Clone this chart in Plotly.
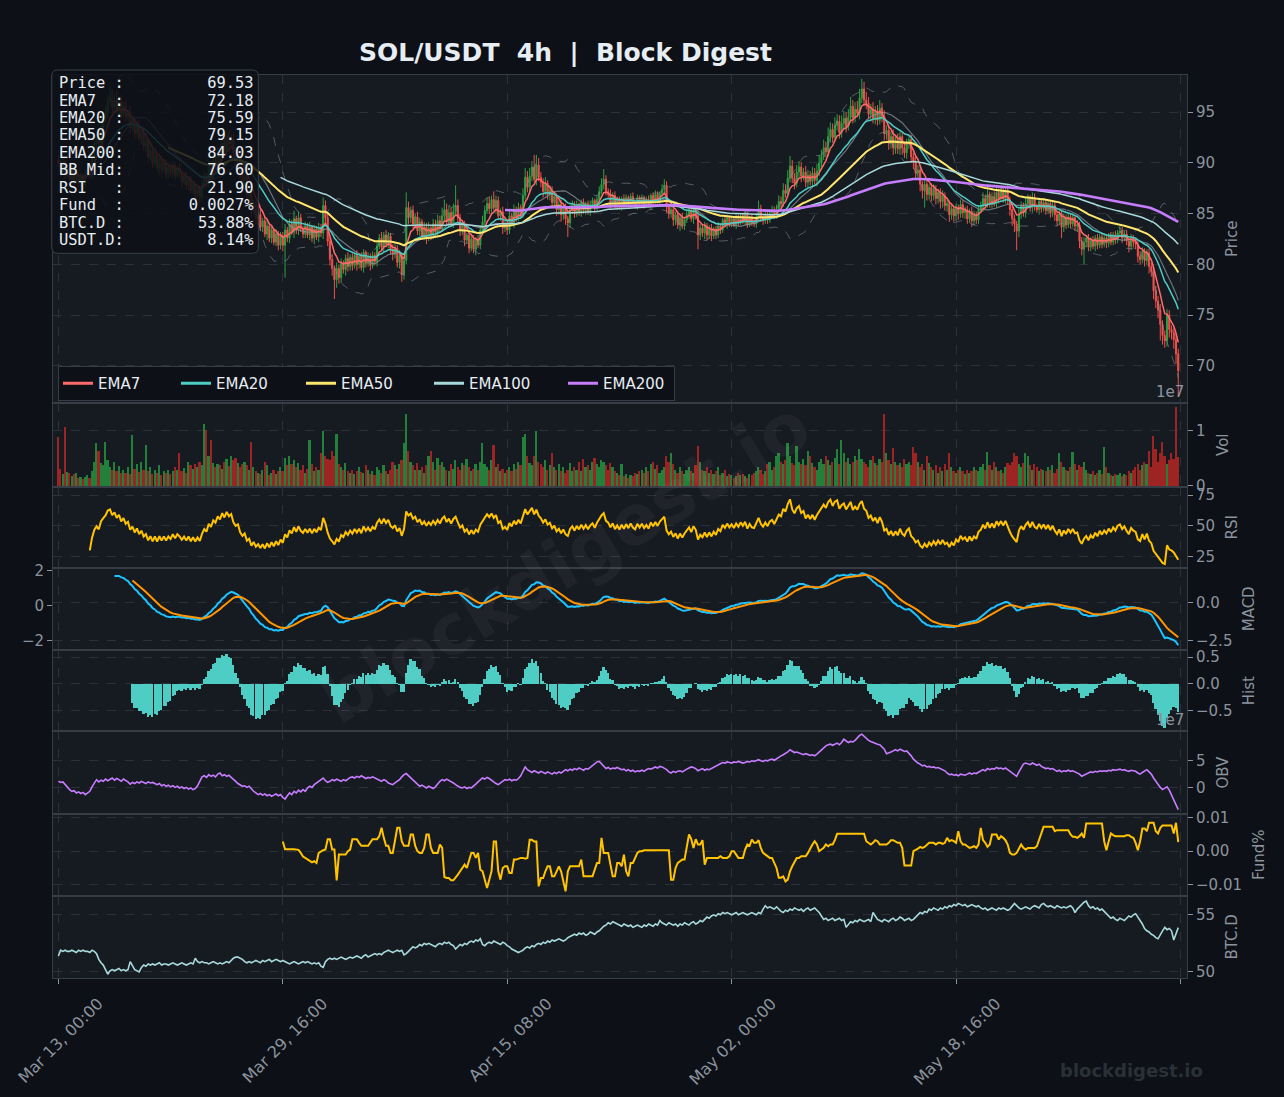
import numpy as np
import pandas as pd
import plotly.graph_objects as go
from plotly.subplots import make_subplots

# ---------------- data (4h candles, index 0 = Mar 13 00:00) ----------------
first_open = 90.3
close = [
    90.0, 89.2, 90.1, 88.9, 89.5, 88.4, 89.4, 88.2, 88.9, 88.0, 88.7, 87.9, 88.9, 89.2, 88.8, 90.6, 91.9, 92.6, 92.0, 93.6,
    94.3, 94.9, 96.1, 96.4, 95.5, 96.2, 95.3, 96.0, 94.9, 95.6, 94.6, 95.0, 93.5, 94.1, 92.9, 93.6, 92.4, 93.0, 91.7, 92.1,
    90.6, 91.3, 90.0, 90.8, 89.5, 90.4, 89.3, 90.0, 88.9, 89.6, 89.0, 89.8, 88.8, 89.5, 89.0, 88.2, 88.7, 87.8, 88.4, 87.3,
    87.9, 86.9, 87.5, 86.7, 87.8, 88.6, 88.1, 89.5, 88.9, 90.2, 89.8, 91.1, 90.6, 92.0, 91.3, 92.6, 91.9, 92.4, 91.0, 90.3,
    90.6, 89.0, 88.2, 88.6, 86.9, 87.2, 85.3, 85.9, 84.5, 84.9, 83.7, 84.3, 83.0, 83.8, 82.6, 83.4, 82.2, 83.0, 81.9, 82.8,
    81.9, 83.4, 82.6, 84.0, 83.2, 84.5, 83.4, 84.6, 83.5, 83.0, 83.8, 82.9, 83.7, 82.6, 83.5, 82.7, 83.6, 83.1, 85.8, 84.6,
    82.3, 80.5, 79.6, 78.5, 79.6, 78.7, 80.1, 79.5, 80.6, 79.8, 80.7, 79.9, 80.9, 80.0, 80.8, 79.7, 81.2, 80.1, 80.8, 79.9,
    80.9, 80.3, 81.8, 82.6, 81.7, 82.9, 82.0, 82.8, 81.5, 81.0, 81.6, 80.2, 80.9, 79.0, 80.4, 85.6, 84.6, 85.3, 84.0, 84.7,
    83.3, 84.2, 82.8, 83.7, 82.6, 83.6, 82.9, 84.0, 83.2, 84.3, 83.5, 84.8, 85.4, 84.2, 85.1, 84.0, 85.2, 85.8, 84.6, 83.4,
    83.9, 82.4, 82.9, 81.6, 82.5, 81.5, 82.4, 81.9, 83.4, 84.2, 85.3, 86.0, 85.5, 86.4, 85.6, 86.3, 84.8, 85.2, 83.6, 84.0,
    83.4, 84.8, 84.1, 85.3, 84.6, 85.6, 84.9, 86.8, 88.6, 87.6, 88.7, 89.6, 88.4, 89.8, 88.6, 88.1, 87.2, 88.0, 86.9, 87.3,
    86.1, 86.7, 85.4, 85.9, 84.9, 85.6, 84.5, 84.1, 85.4, 85.9, 85.0, 85.9, 85.2, 86.1, 85.3, 86.0, 85.2, 85.9, 86.3, 85.5,
    86.4, 87.2, 87.9, 88.4, 87.2, 86.9, 86.1, 86.8, 85.8, 86.4, 85.7, 86.5, 85.8, 86.6, 85.9, 86.7, 86.0, 85.7, 86.6, 86.0,
    86.6, 85.9, 86.4, 85.8, 86.8, 86.2, 86.9, 86.3, 87.0, 87.4, 87.8, 85.7, 85.0, 85.4, 84.4, 84.9, 83.9, 84.6, 83.8, 84.4,
    84.9, 85.3, 84.5, 85.4, 84.8, 82.9, 83.6, 83.1, 83.8, 82.9, 83.6, 82.8, 83.5, 82.9, 83.8, 83.4, 84.4, 83.9, 84.6, 84.0,
    84.5, 83.9, 84.6, 84.1, 84.8, 84.3, 84.9, 83.9, 84.6, 84.1, 84.0, 84.7, 85.5, 84.7, 84.3, 84.9, 84.4, 85.1, 85.3, 84.8,
    85.4, 86.2, 86.0, 87.3, 87.0, 88.5, 89.7, 88.5, 88.0, 89.1, 89.6, 88.7, 89.1, 88.1, 88.8, 88.2, 89.0, 88.3, 89.2, 90.0,
    90.6, 91.5, 91.1, 92.6, 93.3, 92.5, 93.7, 94.1, 93.0, 93.9, 94.4, 93.6, 94.5, 95.6, 94.5, 95.3, 94.9, 96.4, 97.3, 96.2,
    95.9, 94.8, 95.3, 94.4, 95.1, 94.2, 95.4, 94.6, 92.9, 93.2, 91.9, 92.6, 91.5, 92.3, 91.4, 92.6, 91.5, 91.0, 91.9, 92.3,
    90.6, 90.1, 89.0, 89.3, 87.9, 87.3, 87.9, 86.9, 87.6, 86.8, 87.4, 86.5, 87.1, 86.2, 86.8, 85.8, 86.0, 84.9, 85.5, 84.8,
    85.6, 85.0, 85.9, 85.1, 85.4, 84.5, 85.2, 84.3, 84.9, 84.4, 85.4, 85.7, 86.5, 85.9, 86.9, 86.0, 86.7, 86.0, 87.1, 86.5,
    87.2, 86.5, 87.3, 86.3, 85.4, 84.5, 84.0, 83.3, 85.0, 85.8, 85.1, 86.0, 86.5, 85.6, 86.6, 85.7, 85.4, 86.2, 85.5, 86.1,
    85.3, 86.0, 85.1, 85.8, 84.9, 84.3, 85.0, 83.7, 84.6, 83.9, 84.7, 84.0, 84.6, 83.8, 83.9, 82.3, 81.5, 82.2, 82.6, 81.7,
    82.4, 81.8, 82.6, 81.9, 82.7, 82.0, 82.6, 82.1, 82.8, 82.2, 82.9, 82.4, 83.1, 83.3, 82.6, 83.0, 82.3, 81.8, 82.6, 82.2,
    82.0, 80.8, 80.5, 81.3, 80.4, 81.1, 79.8, 79.3, 77.4, 76.4, 75.5, 74.1, 73.0, 72.5, 75.0, 73.6, 73.3, 72.6, 71.2, 69.53,
]
# wick lengths beyond the candle body, in tenths of a dollar
upper_wick = [
    4, 3, 5, 2, 3, 4, 2, 3, 5, 2, 3, 2, 4, 3, 5, 4, 6, 5, 4, 6, 5, 7, 6, 12, 8, 6, 9, 5, 7, 4, 5, 3, 6, 4, 5, 3, 6, 4, 5, 3,
    4, 5, 3, 4, 2, 5, 3, 4, 3, 2, 3, 4, 2, 3, 5, 2, 3, 4, 2, 3, 3, 2, 4, 3, 5, 6, 4, 7, 5, 4, 6, 5, 8, 4, 6, 5, 7, 4, 5, 3,
    4, 3, 5, 3, 4, 6, 3, 5, 4, 3, 5, 3, 4, 6, 3, 4, 2, 5, 3, 4, 4, 6, 3, 5, 4, 8, 3, 6, 4, 3, 4, 3, 5, 2, 4, 3, 5, 4, 8, 5,
    6, 4, 5, 3, 6, 4, 5, 3, 4, 6, 3, 4, 2, 5, 3, 4, 3, 2, 4, 3, 4, 3, 5, 4, 6, 3, 5, 4, 3, 5, 4, 3, 5, 2, 4, 15, 6, 4, 5, 3,
    5, 4, 3, 5, 4, 6, 3, 5, 4, 6, 5, 8, 10, 6, 7, 5, 8, 20, 6, 4, 3, 4, 2, 5, 3, 4, 3, 5, 4, 6, 5, 6, 7, 4, 8, 5, 4, 3, 5, 4,
    4, 5, 3, 6, 4, 5, 3, 7, 9, 6, 8, 6, 12, 10, 7, 5, 4, 6, 3, 5, 4, 5, 3, 4, 5, 3, 4, 3, 5, 4, 3, 4, 2, 3, 4, 2, 3, 4, 3, 2,
    4, 5, 6, 10, 4, 3, 5, 3, 4, 3, 3, 2, 4, 3, 2, 3, 4, 2, 3, 2, 3, 2, 3, 4, 2, 3, 4, 3, 2, 5, 6, 4, 3, 4, 5, 3, 4, 3, 5, 3,
    4, 3, 5, 3, 4, 5, 4, 3, 4, 3, 3, 4, 2, 3, 4, 3, 2, 4, 3, 2, 3, 2, 4, 3, 2, 3, 4, 3, 2, 3, 4, 3, 8, 4, 3, 5, 4, 3, 5, 4,
    5, 6, 5, 7, 6, 8, 10, 6, 5, 7, 6, 5, 4, 6, 5, 4, 6, 5, 7, 8, 7, 8, 6, 9, 7, 6, 8, 7, 6, 8, 7, 6, 8, 9, 6, 7, 8, 9, 10, 7,
    8, 6, 5, 7, 5, 6, 8, 5, 6, 5, 6, 5, 7, 4, 6, 5, 4, 6, 5, 4, 5, 4, 6, 5, 4, 3, 5, 4, 3, 4, 5, 4, 3, 4, 5, 3, 4, 3, 4, 3,
    4, 3, 5, 4, 3, 4, 3, 5, 4, 3, 4, 5, 6, 4, 5, 3, 4, 5, 6, 4, 5, 4, 3, 5, 4, 3, 4, 3, 5, 4, 3, 5, 4, 3, 5, 4, 3, 4, 3, 4,
    3, 4, 3, 5, 4, 3, 4, 3, 4, 3, 4, 3, 4, 3, 5, 3, 4, 5, 3, 4, 3, 4, 3, 4, 3, 4, 3, 4, 3, 4, 3, 4, 3, 5, 4, 3, 4, 3, 4, 3,
    4, 3, 5, 4, 3, 4, 5, 4, 6, 5, 5, 6, 4, 5, 6, 5, 4, 5, 6, 5,
]
lower_wick = [
    3, 5, 2, 4, 3, 5, 3, 4, 2, 4, 5, 3, 4, 2, 3, 4, 3, 5, 4, 3, 4, 3, 5, 4, 6, 5, 4, 6, 5, 4, 5, 4, 6, 3, 5, 4, 3, 5, 4, 6,
    4, 3, 5, 4, 3, 5, 4, 3, 5, 4, 3, 4, 5, 3, 4, 6, 3, 4, 5, 3, 4, 5, 3, 6, 4, 3, 5, 4, 3, 5, 4, 5, 6, 4, 5, 3, 6, 4, 5, 6,
    5, 6, 4, 5, 7, 5, 6, 4, 5, 6, 4, 5, 3, 6, 4, 5, 3, 4, 5, 4, 6, 32, 4, 5, 3, 6, 4, 5, 3, 4, 4, 3, 5, 4, 6, 3, 5, 4, 6, 5,
    5, 6, 7, 19, 8, 6, 5, 4, 6, 5, 4, 5, 3, 6, 4, 3, 5, 4, 3, 5, 3, 4, 5, 3, 4, 5, 3, 4, 5, 6, 4, 5, 6, 7, 5, 4, 6, 5, 4, 5,
    4, 5, 3, 4, 6, 3, 5, 4, 3, 5, 4, 3, 5, 4, 6, 3, 4, 3, 5, 6, 5, 6, 4, 5, 3, 4, 6, 3, 4, 5, 4, 3, 5, 4, 3, 6, 4, 5, 6, 4,
    5, 4, 3, 5, 4, 3, 4, 3, 4, 5, 4, 5, 3, 6, 4, 5, 6, 4, 5, 6, 5, 4, 6, 5, 7, 5, 6, 14, 5, 4, 4, 3, 4, 5, 3, 4, 3, 4, 3, 4,
    3, 4, 3, 5, 4, 3, 6, 4, 3, 4, 3, 4, 3, 2, 3, 4, 3, 2, 3, 4, 3, 4, 3, 2, 4, 3, 2, 3, 4, 3, 4, 6, 5, 4, 6, 5, 4, 6, 3, 4,
    3, 4, 3, 5, 4, 14, 5, 4, 6, 5, 4, 5, 3, 4, 3, 4, 3, 2, 4, 3, 3, 2, 4, 3, 2, 3, 4, 3, 2, 3, 3, 4, 3, 5, 4, 3, 4, 3, 2, 3,
    3, 2, 4, 3, 4, 3, 4, 5, 6, 4, 5, 6, 4, 5, 6, 4, 5, 4, 6, 5, 4, 3, 5, 4, 6, 5, 4, 5, 6, 5, 5, 6, 4, 5, 6, 5, 4, 6, 5, 6,
    6, 5, 7, 5, 6, 5, 4, 6, 7, 6, 6, 5, 7, 6, 5, 6, 7, 5, 6, 5, 6, 7, 5, 6, 7, 8, 17, 6, 5, 6, 5, 6, 5, 7, 6, 5, 6, 7, 5, 6,
    5, 6, 4, 5, 6, 5, 4, 6, 5, 4, 4, 3, 5, 4, 3, 4, 5, 3, 4, 5, 3, 4, 5, 4, 6, 7, 8, 19, 6, 5, 4, 5, 3, 4, 5, 4, 3, 5, 4, 3,
    4, 3, 5, 4, 6, 5, 4, 11, 5, 4, 3, 4, 3, 5, 6, 7, 6, 15, 5, 4, 4, 3, 5, 4, 3, 4, 3, 5, 4, 3, 3, 4, 3, 4, 5, 3, 4, 6, 4, 5,
    5, 6, 5, 4, 6, 5, 7, 5, 8, 7, 8, 16, 9, 7, 6, 8, 7, 9, 10, 25,
]
volume_1e5 = [
    90, 32, 22, 108, 26, 25, 18, 22, 24, 15, 17, 14, 16, 20, 15, 28, 45, 78, 65, 42, 38, 80, 47, 35, 30, 44, 28, 36, 25, 30,
    24, 35, 22, 93, 32, 40, 26, 45, 30, 75, 28, 35, 22, 30, 25, 38, 20, 28, 24, 30, 22, 27, 35, 30, 60, 28, 34, 25, 45, 38,
    32, 40, 35, 45, 38, 114, 103, 55, 84, 42, 35, 40, 38, 32, 45, 50, 36, 55, 48, 52, 42, 35, 40, 45, 38, 30, 80, 35, 28, 25,
    22, 30, 45, 38, 20, 25, 30, 22, 28, 35, 28, 52, 38, 55, 40, 48, 35, 42, 30, 38, 25, 32, 85, 40, 28, 35, 30, 60, 100, 55,
    50, 48, 65, 55, 96, 40, 35, 30, 42, 28, 25, 30, 22, 28, 35, 26, 24, 38, 30, 22, 28, 20, 35, 30, 25, 38, 28, 22, 30, 45,
    38, 32, 40, 48, 78, 132, 65, 45, 38, 30, 42, 30, 35, 25, 38, 56, 65, 45, 30, 52, 38, 45, 35, 30, 28, 40, 32, 48, 35, 30,
    42, 38, 50, 35, 28, 32, 40, 30, 45, 78, 40, 35, 30, 48, 76, 35, 40, 28, 32, 25, 30, 35, 28, 40, 32, 45, 38, 90, 96, 55,
    42, 38, 55, 100, 45, 40, 35, 48, 30, 38, 60, 35, 30, 40, 28, 35, 25, 30, 42, 28, 35, 30, 45, 28, 50, 35, 38, 30, 45, 52,
    40, 35, 48, 45, 38, 30, 42, 35, 28, 25, 20, 40, 18, 22, 15, 20, 18, 25, 22, 28, 30, 25, 35, 28, 40, 45, 32, 38, 25, 30,
    35, 55, 45, 60, 40, 30, 25, 35, 28, 22, 30, 35, 28, 25, 38, 73, 45, 30, 28, 35, 25, 30, 22, 28, 35, 20, 25, 30, 18, 22,
    20, 15, 18, 25, 20, 22, 18, 15, 22, 20, 25, 28, 35, 30, 22, 28, 40, 45, 30, 35, 56, 60, 45, 40, 48, 78, 55, 42, 38, 73,
    45, 40, 50, 38, 65, 55, 42, 35, 30, 45, 50, 40, 55, 48, 38, 45, 52, 67, 40, 84, 60, 45, 52, 40, 45, 55, 48, 68, 50, 45,
    40, 35, 48, 55, 42, 38, 50, 45, 132, 60, 48, 40, 70, 45, 38, 42, 35, 50, 40, 45, 38, 72, 60, 45, 35, 40, 30, 56, 42, 35,
    30, 38, 25, 35, 28, 40, 30, 60, 35, 28, 25, 30, 35, 28, 22, 30, 25, 28, 35, 30, 28, 35, 40, 30, 62, 38, 30, 45, 35, 28,
    30, 25, 35, 42, 38, 45, 60, 55, 40, 35, 42, 60, 55, 38, 30, 40, 35, 28, 32, 30, 28, 35, 30, 38, 25, 32, 60, 45, 35, 30,
    28, 35, 62, 40, 30, 38, 35, 45, 30, 25, 22, 28, 20, 25, 30, 22, 72, 35, 25, 20, 18, 22, 20, 25, 18, 22, 20, 28, 25, 30,
    35, 40, 30, 38, 45, 40, 65, 35, 91, 68, 45, 60, 80, 55, 40, 48, 60, 50, 144, 53,
]
obv_1e6 = [
    12, 10, 11, 6, 2, -3, -6, -5, -9, -7, -10, -8, -12, -9, -6, 2, 9, 15, 11, 14, 12, 16, 13, 15, 18, 14, 17, 15, 12, 16,
    14, 11, 7, 10, 8, 11, 9, 12, 10, 8, 11, 9, 10, 8, 6, 8, 4, 6, 3, 5, 2, 4, 1, 3, 0, 2, -1, 1, -2, 0,
    -3, -1, 4, 12, 20, 22, 19, 24, 21, 23, 20, 25, 27, 22, 24, 21, 23, 19, 16, 12, 8, 5, 3, 4, 1, 3, -2, -6, -9, -12,
    -10, -13, -11, -14, -12, -15, -13, -11, -14, -12, -17, -20, -14, -9, -12, -6, -9, -4, -7, -3, -6, 0, 3, 1, 6, 9, 12, 15, 18, 13,
    10, 12, 15, 13, 16, 14, 12, 15, 13, 16, 19, 20, 18, 21, 19, 22, 20, 17, 19, 18, 20, 18, 16, 14, 12, 15, 13, 9, 7, 6,
    9, 12, 15, 20, 24, 26, 22, 18, 14, 10, 6, 3, 5, 2, 0, 3, 1, -1, 2, 8, 12, 15, 13, 16, 14, 12, 9, 6, 3, 1,
    0, 2, -1, 1, 0, 3, 7, 11, 14, 18, 16, 19, 17, 14, 10, 8, 6, 9, 12, 15, 14, 16, 13, 15, 14, 17, 22, 30, 38, 33,
    30, 28, 31, 29, 27, 30, 28, 26, 29, 27, 25, 28, 26, 29, 27, 30, 33, 31, 34, 32, 35, 33, 36, 34, 32, 35, 34, 37, 40, 44,
    47, 48, 43, 38, 35, 37, 34, 36, 35, 37, 35, 33, 34, 31, 33, 30, 32, 29, 31, 30, 32, 30, 33, 35, 34, 36, 38, 36, 39, 38,
    36, 33, 29, 27, 30, 28, 30, 31, 29, 32, 34, 36, 38, 37, 35, 31, 33, 35, 32, 34, 33, 35, 37, 39, 42, 44, 46, 45, 47, 46,
    45, 47, 46, 48, 47, 45, 46, 48, 47, 49, 48, 50, 51, 49, 48, 50, 49, 51, 52, 50, 53, 55, 58, 60, 62, 65, 69, 66, 64, 65,
    63, 61, 60, 62, 61, 59, 60, 58, 61, 65, 69, 73, 76, 78, 79, 77, 79, 81, 78, 82, 88, 85, 82, 84, 83, 86, 90, 95, 97, 93,
    89, 86, 84, 82, 80, 79, 78, 74, 70, 62, 63, 65, 67, 69, 67, 70, 68, 66, 67, 63, 58, 52, 48, 45, 43, 40, 41, 38, 39, 37,
    38, 36, 37, 35, 34, 31, 27, 24, 25, 23, 24, 22, 25, 24, 23, 25, 27, 25, 27, 26, 28, 30, 33, 31, 35, 33, 35, 34, 37, 35,
    36, 34, 36, 33, 30, 27, 24, 21, 29, 37, 43, 45, 44, 42, 45, 43, 41, 43, 39, 37, 35, 36, 34, 35, 32, 30, 32, 29, 31, 30,
    32, 30, 31, 29, 27, 25, 21, 23, 25, 27, 29, 28, 30, 29, 31, 30, 31, 30, 32, 31, 33, 32, 33, 34, 32, 33, 31, 30, 32, 31,
    30, 27, 25, 28, 31, 33, 29, 25, 18, 12, 6, 1, -3, -1, 2, -4, -12, -21, -30, -39,
]
funding_start = 100  # funding series begins at Mar 29, 16:00
funding_1e4 = [
    29, 6, 6, 5, 6, 6, 5, 4, -5, -16, -20, -25, -30, -33, -30, -35, -5, 0, 3, 5,
    36, 36, 5, 5, -87, -10, -10, -10, -10, 0, 5, 36, 36, 36, 25, 16, 16, 16, 16, 26,
    36, 36, 36, 45, 70, 40, 16, 16, -5, -5, 30, 70, 70, 30, 16, 16, 16, 50, 50, 16,
    0, -5, -5, 10, 50, 50, 10, -5, -5, -5, 20, 10, -77, -80, -80, -87, -87, -80, -70, -60,
    -50, -40, -50, -30, -5, -5, -20, -5, -55, -60, -90, -110, -85, -60, 29, 29, -60, -85, -50, -45,
    -45, -65, -65, -25, -25, -22, -20, -20, -22, -20, 34, 34, 29, 29, -105, -80, -80, -60, -45, -45,
    -75, -75, -60, -45, -60, -90, -120, -60, -45, -45, -45, -45, -45, -25, -75, -75, -75, -75, -75, -55,
    -35, -35, 40, -5, -5, -5, -40, -75, -75, -35, -35, -45, -10, -60, -75, -35, -35, -20, -5, 0,
    0, 3, 3, 3, 3, 3, 3, 3, 3, 3, 3, 3, 3, -85, -85, -50, -35, -30, -25, -25,
    10, 50, 36, 10, 36, 20, 20, 33, -40, -20, -20, -20, -20, -20, -20, -15, -20, -20, -20, -15,
    0, 0, -10, -20, -20, -20, 5, 20, 16, 35, 25, 25, 33, 10, -5, -10, -15, -20, -20, -35,
    -50, -79, -79, -75, -90, -85, -60, -45, -30, -20, -20, -15, -15, -15, -5, 10, 20, 30, 20, 0,
    5, 10, 20, 15, 20, 20, 33, 52, 52, 52, 52, 52, 52, 52, 52, 52, 52, 52, 52, 52,
    30, 25, 20, 25, 33, 30, 20, 20, 20, 20, 25, 33, 33, 30, 25, 25, 10, -43, -43, -43,
    -43, 0, 3, 8, 13, 10, 13, 20, 25, 25, 25, 20, 25, 25, 22, 25, 40, 30, 33, 30,
    25, 60, 30, 20, 20, 15, 10, 12, 15, 10, 20, 70, 33, 25, 13, 20, 50, 50, 50, 35,
    45, 40, 33, 20, -5, -10, -10, -5, 10, 20, 10, 5, 10, 10, 10, 10, 15, 33, 50, 73,
    73, 73, 73, 73, 60, 63, 63, 63, 63, 63, 63, 50, 43, 43, 40, 45, 53, 40, 83, 83,
    83, 83, 83, 83, 83, 83, 30, 3, 30, 53, 48, 45, 45, 45, 43, 45, 48, 48, 43, 40,
    25, 3, 30, 68, 68, 60, 85, 85, 85, 60, 53, 70, 77, 77, 77, 77, 77, 53, 85, 27,
]
btc_dominance = [
    51.4, 51.9, 51.8, 51.9, 51.8, 51.8, 51.9, 51.8, 51.7, 51.9, 51.8, 51.9, 51.8, 51.8, 51.7, 51.9, 51.8, 51.6, 51.1, 50.8,
    50.6, 50.2, 49.8, 50.1, 50.2, 50.1, 50.2, 50.3, 50.1, 50.2, 50.1, 50.2, 50.9, 50.5, 50.2, 50.1, 50.0, 50.4, 50.6, 50.5,
    50.7, 50.6, 50.7, 50.6, 50.7, 50.8, 50.6, 50.7, 50.7, 50.6, 50.7, 50.8, 50.7, 50.6, 50.7, 50.8, 50.7, 50.6, 50.7, 50.8,
    50.7, 51.2, 50.9, 50.8, 50.9, 50.8, 50.8, 50.7, 50.8, 50.9, 50.8, 50.7, 50.8, 50.7, 50.8, 50.9, 50.8, 51.0, 51.2, 51.3,
    51.3, 51.2, 51.1, 50.9, 50.8, 50.9, 50.8, 50.9, 51.0, 50.9, 50.8, 51.0, 50.9, 51.0, 51.1, 50.9, 51.0, 51.1, 51.0, 50.9,
    51.0, 50.9, 50.8, 50.7, 50.8, 50.9, 50.8, 50.7, 50.8, 50.9, 50.8, 50.9, 50.8, 50.7, 50.8, 50.7, 50.8, 50.5, 50.4, 50.9,
    51.1, 51.2, 51.1, 51.2, 51.1, 51.2, 51.3, 51.2, 51.1, 51.2, 51.3, 51.2, 51.3, 51.4, 51.3, 51.2, 51.4, 51.5, 51.3, 51.4,
    51.5, 51.6, 51.5, 51.6, 51.5, 51.7, 51.8, 51.9, 51.8, 51.7, 51.8, 51.9, 51.8, 51.9, 51.5, 51.6, 51.8, 52.0, 52.2, 52.1,
    52.2, 52.4, 52.3, 52.5, 52.4, 52.5, 52.4, 52.3, 52.2, 52.4, 52.5, 52.4, 52.6, 52.5, 52.6, 52.4, 52.3, 52.0, 52.2, 52.4,
    52.3, 52.5, 52.4, 52.6, 52.7, 52.6, 52.8, 52.7, 52.9, 52.4, 52.3, 52.5, 52.6, 52.5, 52.7, 52.6, 52.5, 52.4, 52.6, 52.5,
    52.3, 52.2, 52.0, 51.9, 51.8, 51.7, 51.8, 51.9, 52.1, 52.2, 52.1, 52.3, 52.2, 52.4, 52.5, 52.4, 52.6, 52.5, 52.7, 52.6,
    52.8, 52.7, 52.8, 52.9, 52.8, 52.7, 52.8, 53.0, 53.1, 53.2, 53.3, 53.2, 53.4, 53.3, 53.4, 53.2, 53.3, 53.5, 53.4, 53.3,
    53.5, 53.6, 53.8, 54.0, 54.1, 54.3, 54.2, 54.4, 54.3, 54.2, 54.1, 54.0, 54.2, 54.1, 54.0, 54.1, 53.9, 54.0, 54.1, 54.0,
    53.9, 54.1, 54.0, 54.2, 54.1, 54.0, 54.2, 54.1, 54.5, 54.3, 54.2, 54.1, 54.3, 54.2, 54.1, 54.2, 54.0, 54.2, 54.1, 54.3,
    54.2, 54.1, 54.3, 54.4, 54.2, 54.3, 54.5, 54.4, 54.6, 54.8, 54.7, 54.9, 55.0, 54.9, 55.1, 55.0, 55.2, 55.1, 55.2, 55.1,
    55.0, 55.1, 55.2, 55.0, 55.1, 55.2, 55.1, 55.0, 55.1, 55.2, 55.1, 55.0, 55.2, 55.1, 55.5, 55.8, 55.6, 55.7, 55.6, 55.5,
    55.7, 55.5, 55.3, 55.2, 55.4, 55.3, 55.5, 55.4, 55.6, 55.5, 55.4, 55.5, 55.3, 55.5, 55.6, 55.4, 55.5, 55.6, 55.4, 55.2,
    54.9, 54.6, 54.7, 54.5, 54.6, 54.7, 54.5, 54.6, 54.7, 54.5, 54.6, 53.9, 54.2, 54.4, 54.3, 54.5, 54.4, 54.6, 54.5, 54.4,
    54.5, 54.6, 54.4, 55.2, 54.9, 54.6, 54.5, 54.4, 54.6, 54.5, 54.4, 54.6, 54.7, 54.5, 54.6, 54.8, 54.7, 54.5, 54.6, 54.7,
    54.5, 54.6, 54.8, 55.0, 55.2, 55.1, 55.3, 55.2, 55.5, 55.4, 55.6, 55.5, 55.4, 55.6, 55.5, 55.7, 55.6, 55.8, 55.7, 55.9,
    55.8, 56.0, 55.9, 55.8, 55.9, 55.7, 55.8, 55.9, 55.8, 55.7, 55.8, 55.6, 55.5, 55.6, 55.4, 55.5, 55.6, 55.5, 55.4, 55.6,
    55.5, 55.6, 55.5, 55.4, 55.5, 55.8, 56.0, 55.8, 55.6, 55.5, 55.6, 55.7, 55.6, 55.5, 55.7, 55.8, 55.7, 55.6, 55.9, 56.0,
    55.8, 55.7, 55.8, 55.7, 55.6, 55.8, 55.7, 55.6, 55.7, 55.6, 55.7, 55.8, 55.6, 55.2, 55.5, 55.7, 55.9, 56.1, 56.2, 55.8,
    55.6, 55.7, 55.5, 55.6, 55.4, 55.5, 55.3, 55.1, 54.9, 54.7, 54.8, 54.6, 54.5, 54.7, 54.6, 54.5, 54.7, 54.9, 54.8, 55.0,
    55.1, 54.8, 54.6, 54.2, 53.8, 53.6, 53.5, 53.3, 53.2, 53.0, 52.9, 53.3, 53.6, 53.9, 53.7, 53.8, 53.6, 52.8, 53.4, 53.88,
]
x_tick_pos = [0, 100, 200, 300, 400, 500]
x_tick_labels = ["Mar 13, 00:00", "Mar 29, 16:00", "Apr 15, 08:00", "May 02, 00:00", "May 18, 16:00", ""]
info_labels = ["Price :", "EMA7  :", "EMA20 :", "EMA50 :", "EMA200:", "BB Mid:", "RSI   :", "Fund  :", "BTC.D :", "USDT.D:"]
info_values = ["69.53", "72.18", "75.59", "79.15", "84.03", "76.60", "21.90", "0.0027%", "53.88%", "8.14%"]
ema_periods = [7, 20, 50, 100, 200]
ema_colors = ["#ff6b6b", "#4ecdc4", "#ffe66d", "#a8dadc", "#c77dff"]
ema_widths = [1.5, 1.5, 2.0, 1.5, 2.6]
legend_widths = [73, 80, 83, 89, 66]

# ---------------- derived series ----------------
c = pd.Series(close, dtype=float)
n = len(c)
xi = np.arange(n)
o = c.shift(1)
o.iloc[0] = first_open
hi = np.maximum(o, c) + np.array(upper_wick) / 10.0
lo = np.minimum(o, c) - np.array(lower_wick) / 10.0
vol = np.array(volume_1e5) * 1e5
obv = np.array(obv_1e6) * 1e6
fund = np.array(funding_1e4) * 1e-4
fund_x = np.arange(funding_start, funding_start + len(fund))


def ema(s, span):
    return s.ewm(span=span, adjust=False, min_periods=span).mean()


emas = [ema(c, p) for p in ema_periods]
bb_mid = c.rolling(20).mean()
bb_sd = c.rolling(20).std(ddof=0)
bb_up = bb_mid + 2 * bb_sd
bb_lo = bb_mid - 2 * bb_sd
d = c.diff()
ag = d.clip(lower=0).ewm(alpha=1 / 14, adjust=False, min_periods=14).mean()
al = (-d).clip(lower=0).ewm(alpha=1 / 14, adjust=False, min_periods=14).mean()
rsi = 100 - 100 / (1 + ag / al)
macd = ema(c, 12) - ema(c, 26)
signal = macd.ewm(span=9, adjust=False, min_periods=9).mean()
hist = macd - signal
is_up = (c >= o).values

# ---------------- styling ----------------
PAPER = "#0d1016"
PLOT = "#161a21"
GRID = "#2c3139"
SPINE = "#373d46"
TXT = "#8b949e"
WHITE = "#e6edf3"
FONT = "DejaVu Sans"
UP = "#2ea043"
DN = "#f0514b"

L, R, T, B = 53, 97, 75, 119
W, H = 1284 - L - R, 1097 - T - B


def px_x(px):
    return (px - L) / W


def px_y(py):
    return (1097 - B - py) / H


fig = make_subplots(rows=8, cols=1, shared_xaxes=True, vertical_spacing=0,
                    row_heights=[327.7, 84.3, 81, 82, 81.7, 82.3, 82, 82.3])

# price panel
fig.add_trace(go.Scatter(x=xi, y=bb_up, mode="lines", line=dict(color="rgba(139,148,158,0.55)", width=1, dash="dash"),
                         showlegend=False, hoverinfo="skip"), row=1, col=1)
fig.add_trace(go.Scatter(x=xi, y=bb_lo, mode="lines", line=dict(color="rgba(139,148,158,0.55)", width=1, dash="dash"),
                         showlegend=False, hoverinfo="skip"), row=1, col=1)
fig.add_trace(go.Candlestick(x=xi, open=o, high=hi, low=lo, close=c, whiskerwidth=0,
                             increasing=dict(line=dict(color=UP, width=1), fillcolor=UP),
                             decreasing=dict(line=dict(color=DN, width=1), fillcolor=DN),
                             showlegend=False), row=1, col=1)
fig.add_trace(go.Scatter(x=xi, y=bb_mid, mode="lines", line=dict(color="rgba(139,148,158,0.75)", width=1.2),
                         showlegend=False, hoverinfo="skip"), row=1, col=1)
for p, s, col, w in zip(ema_periods, emas, ema_colors, ema_widths):
    fig.add_trace(go.Scatter(x=xi, y=s, mode="lines", name=f"EMA{p}", legendgroup=f"ema{p}",
                             line=dict(color=col, width=w), showlegend=False), row=1, col=1)
# legend entries (thicker keys, as in the reference legend)
for p, col, lw in zip(ema_periods, ema_colors, legend_widths):
    fig.add_trace(go.Scatter(x=[None], y=[None], mode="lines", name=f"EMA{p}", legendgroup=f"ema{p}",
                             line=dict(color=col, width=3), legendwidth=lw, hoverinfo="skip"), row=1, col=1)

# volume
fig.add_trace(go.Bar(x=xi, y=vol, marker=dict(color=np.where(is_up, "#23803a", "#9e2323"), line=dict(width=0)),
                     width=0.75, showlegend=False), row=2, col=1)
# RSI
fig.add_trace(go.Scatter(x=xi, y=rsi, mode="lines", line=dict(color="#ffc300", width=2), showlegend=False), row=3, col=1)
# MACD
fig.add_trace(go.Scatter(x=xi, y=macd, mode="lines", line=dict(color="#1ec3ff", width=2), showlegend=False), row=4, col=1)
fig.add_trace(go.Scatter(x=xi, y=signal, mode="lines", line=dict(color="#ff9500", width=2), showlegend=False), row=4, col=1)
fig.add_trace(go.Scatter(x=xi, y=macd, mode="lines", line=dict(color="rgba(0,0,0,0)", width=0), xaxis="x4", yaxis="y9",
                         showlegend=False, hoverinfo="skip"))
# histogram
fig.add_trace(go.Bar(x=xi, y=hist, marker=dict(color="#4ecdc4", line=dict(width=0)), width=0.75,
                     showlegend=False), row=5, col=1)
# OBV
fig.add_trace(go.Scatter(x=xi, y=obv, mode="lines", line=dict(color="#c77dff", width=1.6), showlegend=False), row=6, col=1)
# funding
fig.add_trace(go.Scatter(x=fund_x, y=fund, mode="lines", line=dict(color="#ffc300", width=2), showlegend=False), row=7, col=1)
# BTC dominance
fig.add_trace(go.Scatter(x=xi, y=btc_dominance, mode="lines", line=dict(color="#a8dadc", width=1.6), showlegend=False),
              row=8, col=1)

axis_common = dict(showgrid=True, gridcolor=GRID, griddash="dash", gridwidth=1, zeroline=False,
                   showline=True, mirror=True, linecolor=SPINE, linewidth=1, automargin=False,
                   tickfont=dict(family=FONT, size=15, color=TXT))
fig.update_xaxes(range=[-2.4, 502.9], tickvals=x_tick_pos, ticktext=x_tick_labels,
                 rangeslider_visible=False, **axis_common)
fig.update_xaxes(ticks="outside", ticklen=5, tickcolor=TXT, tickangle=-45, ticklabelshift=40, ticklabelstandoff=4,
                 ticklabeloverflow="allow", tickfont=dict(family=FONT, size=16, color=TXT), row=8, col=1)

yspec = [
    ("Price", [66.39, 98.67], [70, 75, 80, 85, 90, 95], ["70", "75", "80", "85", "90", "95"]),
    ("Vol", [-0.018e7, 1.515e7], [0, 1e7], ["0", "1"]),
    ("RSI", [15.8, 81.8], [25, 50, 75], ["25", "50", "75"]),
    ("MACD", [-3.125, 2.27], [-2.5, 0], ["\u22122.5", "0.0"]),
    ("Hist", [-0.893, 0.637], [-0.5, 0, 0.5], ["\u22120.5", "0.0", "0.5"]),
    ("OBV", [-4.66e7, 10.2e7], [0, 5e7], ["0", "5"]),
    ("Fund%", [-0.0133, 0.0112], [-0.01, 0, 0.01], ["\u22120.01", "0.00", "0.01"]),
    ("BTC.D", [49.47, 56.67], [50, 55], ["50", "55"]),
]
for r, (title, rng, tv, tt) in enumerate(yspec, start=1):
    fig.update_yaxes(side="right", range=rng, tickvals=tv, ticktext=tt, ticks="outside", ticklen=5, tickcolor=TXT,
                     title=dict(text=title, font=dict(family=FONT, size=15, color=TXT), standoff=12),
                     **axis_common, row=r, col=1)

fig.update_layout(
    yaxis9=dict(overlaying="y4", anchor="x4", side="left", range=[-2.52, 2.14], tickvals=[2, 0, -2],
                ticktext=["2", "0", "\u22122"], showgrid=False, zeroline=False, showline=False, automargin=False,
                ticks="outside", ticklen=5, tickcolor=TXT, tickfont=dict(family=FONT, size=15, color=TXT)),
    width=1284, height=1097, margin=dict(l=L, r=R, t=T, b=B, autoexpand=False),
    paper_bgcolor=PAPER, plot_bgcolor=PLOT, font=dict(family=FONT, color=TXT),
    bargap=0, showlegend=True,
    legend=dict(orientation="h", x=px_x(58), y=px_y(366), xanchor="left", yanchor="top",
                bgcolor="rgba(13,16,22,0.9)", bordercolor=SPINE, borderwidth=1,
                font=dict(family=FONT, size=15, color=WHITE)),
)

# info box
x0, x1 = px_x(51.7), px_x(258.3)
y1, y0 = px_y(70), px_y(253.3)
rx, ry = 6 / W, 6 / H
path = (f"M {x0+rx},{y1} L {x1-rx},{y1} Q {x1},{y1} {x1},{y1-ry} L {x1},{y0+ry} Q {x1},{y0} {x1-rx},{y0} "
        f"L {x0+rx},{y0} Q {x0},{y0} {x0},{y0+ry} L {x0},{y1-ry} Q {x0},{y1} {x0+rx},{y1} Z")
fig.add_shape(type="path", path=path, xref="paper", yref="paper", layer="above",
              fillcolor="rgba(13,16,22,0.86)", line=dict(color="#3a4049", width=1))
for k, (lab, val) in enumerate(zip(info_labels, info_values)):
    line = (lab + val.rjust(14)).replace(" ", "\u00a0")
    fig.add_annotation(x=px_x(57.3), y=px_y(83.3 + 17.4 * k), xref="paper", yref="paper", text=line,
                       showarrow=False, xanchor="left", yanchor="middle",
                       font=dict(family="DejaVu Sans Mono", size=15.4, color=WHITE))

# titles / watermarks / offset labels
fig.add_annotation(x=px_x(565), y=px_y(52), xref="paper", yref="paper",
                   text="<b>SOL/USDT\u00a0\u00a04h\u00a0\u00a0|\u00a0\u00a0Block Digest</b>", showarrow=False,
                   xanchor="center", yanchor="middle", font=dict(family=FONT, size=25, color=WHITE))
fig.add_annotation(x=px_x(565), y=px_y(562), xref="paper", yref="paper", text="<b>blockdigest.io</b>",
                   showarrow=False, textangle=-31, font=dict(family=FONT, size=70, color="rgba(255,255,255,0.045)"))
fig.add_annotation(x=px_x(1205), y=px_y(1070), xref="paper", yref="paper", text="<b>blockdigest.io</b>",
                   showarrow=False, xanchor="right", yanchor="middle", font=dict(family=FONT, size=18, color="#2a3038"))
for yy in (392, 720):
    fig.add_annotation(x=px_x(1186), y=px_y(yy), xref="paper", yref="paper", text="1e7", showarrow=False,
                       xanchor="right", yanchor="middle", font=dict(family=FONT, size=15, color=TXT))

fig.write_html("out.html", config={"displayModeBar": False})
